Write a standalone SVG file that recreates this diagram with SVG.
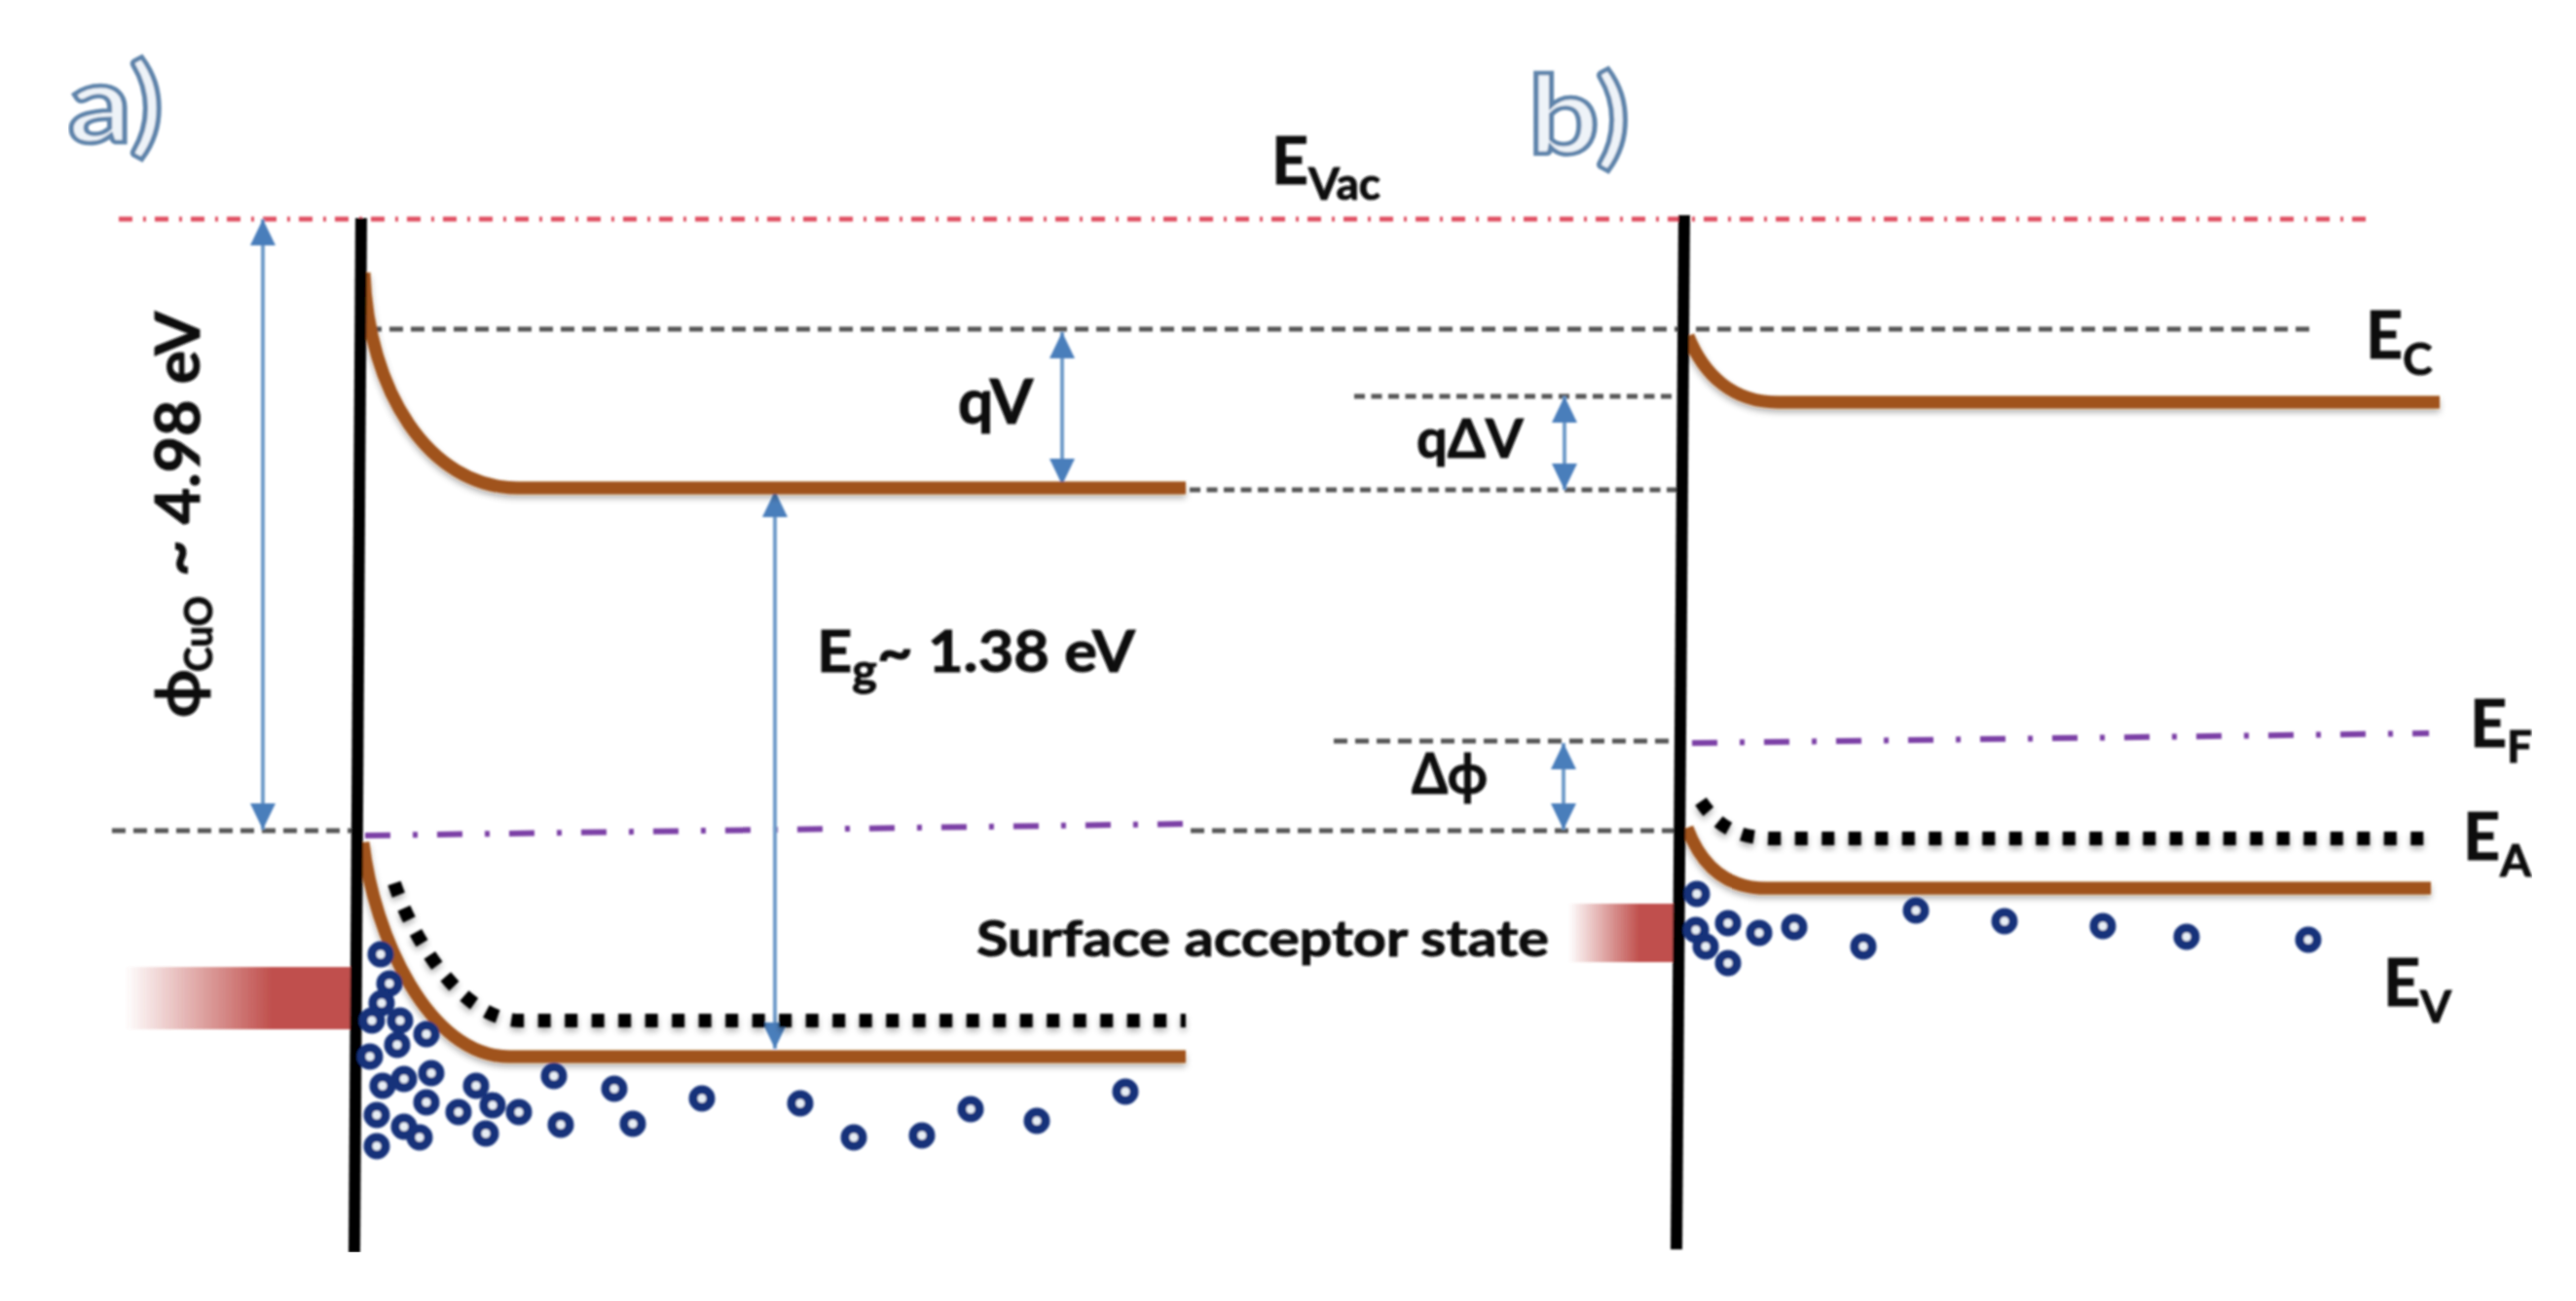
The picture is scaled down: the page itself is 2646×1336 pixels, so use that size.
<svg xmlns="http://www.w3.org/2000/svg" width="2646" height="1336" viewBox="0 0 2646 1336">
<style>
text{font-family:Lato,"Open Sans","Liberation Sans",sans-serif;fill:#111;stroke:#111;stroke-width:1px}
.b{font-weight:700}
.s{font-size:46px}
.panel{font-size:112px;font-weight:700;fill:#eef3f8;stroke:#5f84ab;stroke-width:4.5px}
.gray{fill:none;stroke:#555;stroke-width:5;stroke-dasharray:14 8}
.grayb{fill:none;stroke:#555;stroke-width:5;stroke-dasharray:11 6.5}
.red{fill:none;stroke:#e04f60;stroke-width:5;stroke-dasharray:14 11 3 9}
.pur{fill:none;stroke:#7b3fa6;stroke-width:6;stroke-dasharray:26 23 5 20}
.brown{fill:none;stroke:#a0521a;stroke-width:13;filter:url(#sh)}
.dot{fill:none;stroke:#000;stroke-width:14;stroke-dasharray:13 14.5;filter:url(#sh)}
.wall{stroke:#000;stroke-width:12}
.arr{stroke:#6f9bc9;stroke-width:4;fill:none;marker-start:url(#ah);marker-end:url(#ah)}
.e{fill:#e8eef5;stroke:#12307a;stroke-width:9}
</style>
<defs>
<marker id="ah" markerUnits="userSpaceOnUse" markerWidth="26" markerHeight="28" refX="27" refY="13" orient="auto-start-reverse"><path d="M0 0L27 13L0 26Z" fill="#4a7ebb"/></marker>
<linearGradient id="rg"><stop offset="0" stop-color="#c0504d" stop-opacity="0"/><stop offset="0.65" stop-color="#c0504d"/><stop offset="1" stop-color="#c0504d"/></linearGradient>
<filter id="soft" x="0" y="0" width="1" height="1"><feGaussianBlur stdDeviation="1.3"/></filter>
<filter id="sh" x="-5%" y="-30%" width="110%" height="170%"><feDropShadow dx="0" dy="4" stdDeviation="3" flood-color="#000" flood-opacity="0.3"/></filter>
</defs>
<rect width="2646" height="1336" fill="#fff"/>
<g filter="url(#soft)">
<g id="connectors">
<path class="red" d="M122 225H2440"/>
<path class="gray" d="M378 338H2380"/>
<path class="gray" d="M115 853H365"/>
<path class="gray" d="M1223 853H1722"/>
<path class="grayb" d="M1222 503H1722"/>
<path class="grayb" d="M1391 407H1722"/>
<path class="gray" d="M1370 761H1722"/>
<path class="pur" d="M375 858L1218 846"/>
<path class="pur" d="M1738 763L2495 753"/>
<path class="arr" d="M270 225V852"/>
<path class="arr" d="M796 504V1077"/>
<path class="arr" d="M1091 341V498"/>
<path class="arr" d="M1607 407V503"/>
<path class="arr" d="M1606 763V852"/>
</g>
<g id="state-a"><rect x="128" y="993" width="232" height="64" fill="url(#rg)"/></g>
<g id="state-b"><rect x="1611" y="928" width="112" height="60" fill="url(#rg)"/></g>
<g id="band-a">
<path class="brown" d="M374 280C378 400 440 501 532 501H1218"/>
<path class="dot" d="M405 907C428 975 480 1048 534 1048H1218"/>
<path class="brown" d="M373 865C384 960 440 1085 523 1085H1218"/>
</g>
<g id="band-b">
<path class="brown" d="M1734 345C1750 385 1780 413 1826 413H2506"/>
<path class="dot" d="M1747 823C1764 848 1784 861 1822 861H2492"/>
<path class="brown" d="M1733 850C1746 885 1770 912 1814 912H2497"/>
</g>
<g id="wall-a"><path class="wall" d="M371 224L364 1286"/></g>
<g id="wall-b"><path class="wall" d="M1730 221L1722 1283"/></g>
<g id="carriers-a">
<circle class="e" cx="391" cy="980" r="9"/><circle class="e" cx="400" cy="1010" r="9"/><circle class="e" cx="392" cy="1030" r="9"/><circle class="e" cx="382" cy="1048" r="9"/><circle class="e" cx="411" cy="1048" r="9"/><circle class="e" cx="438" cy="1062" r="9"/><circle class="e" cx="408" cy="1073" r="9"/><circle class="e" cx="380" cy="1085" r="9"/><circle class="e" cx="393" cy="1115" r="9"/><circle class="e" cx="415" cy="1108" r="9"/><circle class="e" cx="443" cy="1102" r="9"/><circle class="e" cx="489" cy="1115" r="9"/><circle class="e" cx="438" cy="1132" r="9"/><circle class="e" cx="387" cy="1145" r="9"/><circle class="e" cx="471" cy="1142" r="9"/><circle class="e" cx="506" cy="1135" r="9"/><circle class="e" cx="533" cy="1142" r="9"/><circle class="e" cx="569" cy="1105" r="9"/><circle class="e" cx="631" cy="1118" r="9"/><circle class="e" cx="721" cy="1128" r="9"/><circle class="e" cx="822" cy="1133" r="9"/><circle class="e" cx="415" cy="1157" r="9"/><circle class="e" cx="431" cy="1168" r="9"/><circle class="e" cx="387" cy="1177" r="9"/><circle class="e" cx="499" cy="1164" r="9"/><circle class="e" cx="576" cy="1155" r="9"/><circle class="e" cx="650" cy="1154" r="9"/><circle class="e" cx="877" cy="1168" r="9"/><circle class="e" cx="947" cy="1166" r="9"/><circle class="e" cx="997" cy="1139" r="9"/><circle class="e" cx="1065" cy="1151" r="9"/><circle class="e" cx="1156" cy="1121" r="9"/>
</g>
<g id="carriers-b">
<circle class="e" cx="1743" cy="918" r="9"/><circle class="e" cx="1742" cy="955" r="9"/><circle class="e" cx="1752" cy="972" r="9"/><circle class="e" cx="1775" cy="948" r="9"/><circle class="e" cx="1775" cy="989" r="9"/><circle class="e" cx="1807" cy="958" r="9"/><circle class="e" cx="1843" cy="952" r="9"/><circle class="e" cx="1914" cy="972" r="9"/><circle class="e" cx="1968" cy="935" r="9"/><circle class="e" cx="2059" cy="946" r="9"/><circle class="e" cx="2160" cy="951" r="9"/><circle class="e" cx="2246" cy="962" r="9"/><circle class="e" cx="2371" cy="965" r="9"/>
</g>
<g id="labels">
<text class="panel" x="70" y="146" textLength="98" lengthAdjust="spacingAndGlyphs">a)</text>
<text class="panel" x="1570" y="158" textLength="104" lengthAdjust="spacingAndGlyphs">b)</text>
<text x="1306" y="189" font-size="66" font-weight="700">E<tspan class="s" dy="16">Vac</tspan></text>
<g transform="translate(205 737) rotate(-90)">
<text class="b" font-size="64">ϕ</text>
<text class="b" x="47" y="13" font-size="40" textLength="78" lengthAdjust="spacingAndGlyphs">CuO</text>
<text class="b" x="145" font-size="64" textLength="272" lengthAdjust="spacingAndGlyphs">~ 4.98 eV</text>
</g>
<text class="b" x="984" y="435" font-size="64">qV</text>
<text class="b" x="1455" y="470" font-size="56">qΔV</text>
<text class="b" x="1450" y="815" font-size="58" textLength="78" lengthAdjust="spacingAndGlyphs">Δϕ</text>
<text class="b" x="839" y="690" font-size="60" textLength="327" lengthAdjust="spacingAndGlyphs">E<tspan class="s" dy="14">g</tspan><tspan dy="-14">~ 1.38 eV</tspan></text>
<text class="b" x="1003" y="982" font-size="52" textLength="588" lengthAdjust="spacingAndGlyphs">Surface acceptor state</text>
<text x="2430" y="368" font-size="66" font-weight="700">E<tspan class="s" dy="17">C</tspan></text>
<text x="2537" y="767" font-size="66" font-weight="700">E<tspan class="s" dy="16">F</tspan></text>
<text x="2530" y="883" font-size="66" font-weight="700">E<tspan class="s" dy="17">A</tspan></text>
<text x="2448" y="1033" font-size="66" font-weight="700">E<tspan class="s" dy="17">V</tspan></text>
</g>
</g>
</svg>
